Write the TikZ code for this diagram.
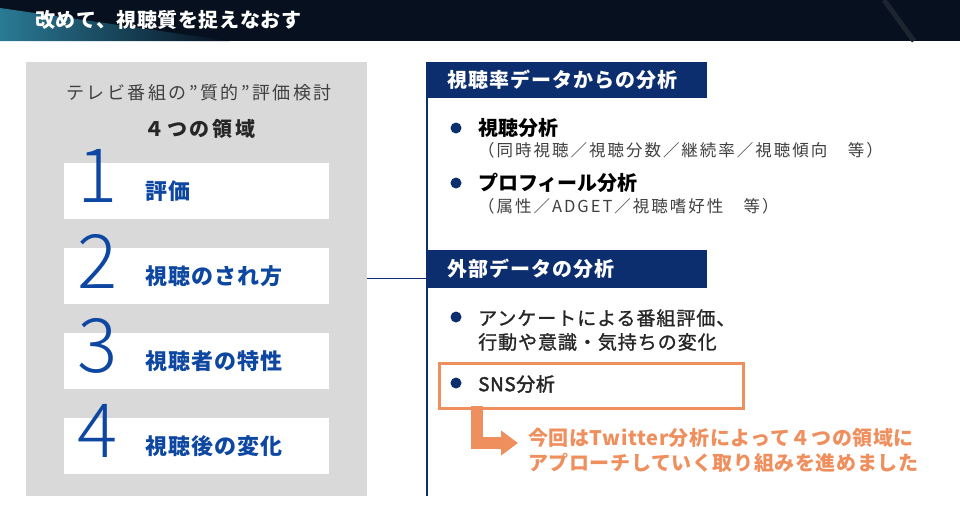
\documentclass[tikz,border=0pt]{standalone}
\usepackage{fontspec}
\setmainfont{Noto Sans CJK JP}
\newfontfamily\jpmed{Noto Sans CJK JP}[FakeBold=1.2]
\newfontfamily\jpsemi{Noto Sans CJK JP}[FakeBold=2.2]
\IfFontExistsTF{Noto Sans CJK JP Light}
  {\newfontfamily\numfont{Noto Sans CJK JP Light}}
  {\newfontfamily\numfont{Liberation Sans}}
\usetikzlibrary{arrows.meta}
\definecolor{navy}{HTML}{0C2E6E}
\definecolor{numblue}{HTML}{0D47A1}
\definecolor{panelgray}{HTML}{D9D9D9}
\definecolor{orangeA}{HTML}{F08F5E}
\definecolor{txtgray}{HTML}{404040}
\definecolor{titlebg}{HTML}{06101F}
\definecolor{titleteal}{HTML}{2A7A95}
\newcommand{\fs}[1]{\fontsize{#1pt}{#1pt}\selectfont}
\newcommand{\tr}[1]{\addfontfeatures{LetterSpace=#1}}
\begin{document}
\begin{tikzpicture}[x=1pt,y=-1pt,
  txt/.style={inner sep=0pt, anchor=west},
  itembox/.style={fill=white, minimum width=265pt, minimum height=56pt, inner sep=0pt, anchor=north west},
  bignum/.style={inner sep=0pt, text=numblue, font=\numfont\fs{75}},
  itemlabel/.style={txt, text=numblue, font=\bfseries\fs{22}\tr{5}},
  hdr/.style={fill=navy, text=white, minimum width=280pt, text width=240pt, inner xsep=20pt, inner ysep=0pt, align=left, anchor=north west, font=\bfseries\fs{20}\tr{5}},
  bulletdot/.style={circle, fill=navy, minimum size=11pt, inner sep=0pt},
  headitem/.style={txt, font=\bfseries\fs{20}},
  subitem/.style={txt, text=txtgray, font=\fs{16.5}\tr{12}},
  plainitem/.style={txt, text=black!85, font=\jpmed\fs{19}\tr{5}},
  orangetext/.style={txt, text=orangeA, font=\bfseries\fs{20}\tr{3}},
  orangearrow/.style={orangeA, line width=12pt, -{Triangle[width=24pt,length=17pt]}},
]
\useasboundingbox (0,0) rectangle (960,504);
% title bar
\fill[titlebg] (0,0) rectangle (960,41);
\shade[left color=titleteal, right color=titlebg] (0,8) -- (0,41) -- (230,41) -- cycle;
\draw[line width=5pt, gray!18!titlebg] (884,0) -- (914,41);
\node[txt, text=white, font=\bfseries\fs{20}\tr{3}] (title) at (35,20) {改めて、視聴質を捉えなおす};

% left panel
\node[fill=panelgray, minimum width=341pt, minimum height=434pt, inner sep=0pt, anchor=north west] (panel) at (26,62) {};
\node[inner sep=0pt, text=txtgray, font=\fs{18}\tr{14}] (sub) at (199,93) {テレビ番組の”質的”評価検討};
\node[inner sep=0pt, text=black!85, font=\bfseries\fs{20}\tr{14}] (four) at (200,129) {４つの領域};

\node[itembox] (b1) at (64,163) {};
\node[itembox] (b2) at (64,248) {};
\node[itembox] (b3) at (64,333) {};
\node[itembox] (b4) at (64,418) {};
\node[bignum] (n1) at (98,176) {1};
\node[bignum] (n2) at (98,261) {2};
\node[bignum] (n3) at (98,346) {3};
\node[bignum] (n4) at (98,431) {4};
\node[itemlabel] (l1) at (145,191) {評価};
\node[itemlabel] (l2) at (145,276) {視聴のされ方};
\node[itemlabel] (l3) at (145,361) {視聴者の特性};
\node[itemlabel] (l4) at (145,446) {視聴後の変化};

% right side
\coordinate (vtop) at (427,62);
\coordinate (vbot) at (427,496);
\coordinate (join) at (427,278);
\draw[navy, line width=1.3pt] (vtop) -- (vbot);
\draw[navy, line width=1pt] (join -| panel.east) -- (join);

\node[hdr, minimum height=36pt] (h1) at (427,62) {視聴率データからの分析};
\node[hdr, minimum height=38pt] (h2) at (427,250) {外部データの分析};

\node[bulletdot] (d1) at (456,128) {};
\node[headitem] (t1) at (478,128) {視聴分析};
\node[subitem] (s1) at (478,150) {（同時視聴／視聴分数／継続率／視聴傾向　等）};
\node[bulletdot] (d2) at (456,183) {};
\node[headitem] (t2) at (478,183) {プロフィール分析};
\node[subitem] (s2) at (478,206) {（属性／ADGET／視聴嗜好性　等）};

\node[bulletdot] (d3) at (456,317) {};
\node[plainitem] (t3) at (478,318) {アンケートによる番組評価、};
\node[plainitem] (t3b) at (478,342) {行動や意識・気持ちの変化};

\node[draw=orangeA, line width=2.5pt, minimum width=304pt, minimum height=45pt, inner sep=0pt, anchor=north west] (sns) at (438,362) {};
\node[bulletdot] (d4) at (456,383) {};
\node[plainitem, font=\jpsemi\fs{19}\tr{3}] (t4) at (478,384) {SNS分析};

\coordinate (astart) at (477,406);
\coordinate (aend) at (518,443);
\draw[orangearrow] (astart) |- (aend);
\node[orangetext] (o1) at (528,438) {今回はTwitter分析によって４つの領域に};
\node[orangetext] (o2) at (528,463) {アプローチしていく取り組みを進めました};
\end{tikzpicture}
\end{document}
